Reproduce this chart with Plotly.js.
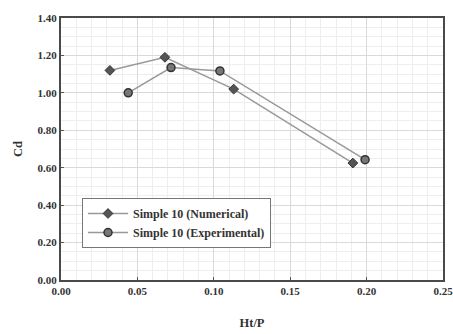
<!DOCTYPE html>
<html><head><meta charset="utf-8">
<script src="https://cdn.plot.ly/plotly-3.0.1.min.js"></script>
<style>html,body{margin:0;padding:0;background:#fff}</style>
</head><body><div id="chart" style="width:453px;height:334px"></div>
<script>
const numX = [0.032, 0.068, 0.113, 0.191];
const numY = [1.12, 1.19, 1.02, 0.625];
const expX = [0.044, 0.072, 0.104, 0.199];
const expY = [1.00, 1.135, 1.117, 0.643];
const numName = 'Simple 10 (Numerical)';
const expName = 'Simple 10 (Experimental)';
const xTicks = [0, 0.05, 0.10, 0.15, 0.20, 0.25];
const yTicks = [0, 0.2, 0.4, 0.6, 0.8, 1.0, 1.2, 1.4];

const serif = 'Liberation Serif, Times New Roman, serif';
const traces = [
  {x: numX, y: numY, name: numName, type: 'scatter', mode: 'lines+markers',
   line: {color: '#999', width: 1.5},
   marker: {symbol: 'diamond', size: 7.5, color: '#555', line: {color: '#333', width: 1}}},
  {x: expX, y: expY, name: expName, type: 'scatter', mode: 'lines+markers',
   line: {color: '#999', width: 1.5},
   marker: {symbol: 'circle', size: 8, color: '#777', line: {color: '#333', width: 1.5}}}
];
const axisCommon = {
  showline: true, mirror: true, linecolor: '#4a4a4a', linewidth: 2,
  showgrid: true, gridcolor: '#d9d9d9', gridwidth: 1,
  ticks: 'inside', ticklen: 3, tickcolor: '#555',
  tickfont: {family: serif, size: 11, color: '#333', weight: 'bold'},
  ticklabeloverflow: 'allow',
  zeroline: false
};
const layout = {
  width: 453, height: 334,
  margin: {l: 61, r: 10, t: 18, b: 54},
  paper_bgcolor: '#fff', plot_bgcolor: '#fff',
  showlegend: true,
  xaxis: Object.assign({}, axisCommon, {
    range: [0, 0.25], tickvals: xTicks, ticktext: xTicks.map(v => v.toFixed(2)),
    minor: {dtick: 0.01, showgrid: true, gridcolor: '#eeeeee', gridwidth: 1},
    title: {text: 'Ht/P', font: {family: serif, size: 12.5, color: '#333', weight: 'bold'}, standoff: 22}
  }),
  yaxis: Object.assign({}, axisCommon, {
    range: [0, 1.4], tickvals: yTicks, ticktext: yTicks.map(v => v.toFixed(2)),
    minor: {dtick: 0.05, showgrid: true, gridcolor: '#eeeeee', gridwidth: 1},
    title: {text: 'Cd', font: {family: serif, size: 12.5, color: '#333', weight: 'bold'}, standoff: 12}
  }),
  legend: {
    x: 0.055, y: 0.313, xanchor: 'left', yanchor: 'top',
    bgcolor: '#fff', bordercolor: '#777', borderwidth: 1,
    font: {family: serif, size: 12, color: '#333', weight: 'bold'},
    itemwidth: 40, tracegroupgap: 2
  }
};
Plotly.newPlot('chart', traces, layout, {displayModeBar: false, staticPlot: true});
</script></body></html>
